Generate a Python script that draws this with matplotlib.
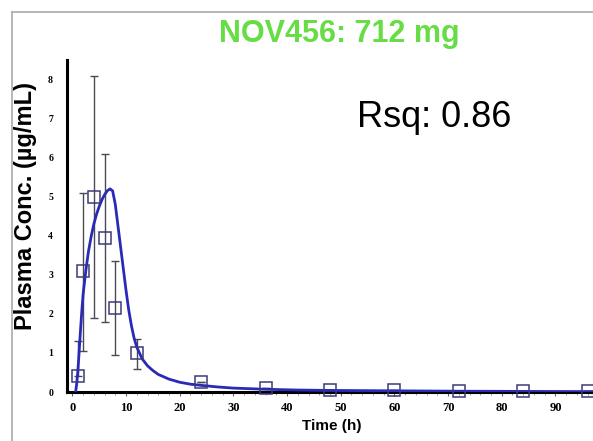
import matplotlib
matplotlib.use("Agg")
import matplotlib.pyplot as plt
from matplotlib.ticker import MultipleLocator

# Observed data
obs_time = [1, 2, 4, 6, 8, 12, 24, 36, 48, 60, 72, 84, 96]
obs_conc = [0.40, 3.10, 5.00, 3.95, 2.15, 1.00, 0.25, 0.10, 0.05, 0.05, 0.03, 0.03, 0.03]
err_low = [0.40, 1.05, 1.90, 1.80, 0.95, 0.60, 0.25, 0.10, 0.05, 0.05, 0.03, 0.03, 0.03]
err_high = [1.30, 5.10, 8.10, 6.10, 3.35, 1.35, 0.25, 0.10, 0.05, 0.05, 0.03, 0.03, 0.03]

# Model fit curve
fit_time = [0.6, 0.8, 1.0, 1.25, 1.5, 1.75, 2.0, 2.5, 3.0, 3.5, 4.0, 4.5, 5.0, 5.5, 6.0, 6.5, 7.0,
            7.5, 8.0, 8.5, 9.0, 9.5, 10.0, 10.5, 11.0, 11.5, 12.0, 13.0, 14.0, 15.0, 16.0, 18.0,
            20.0, 22.0, 24.0, 27.0, 30.0, 36.0, 42.0, 48.0, 60.0, 72.0, 84.0, 97.0]
fit_conc = [0.0, 0.2, 0.5, 1.0, 1.55, 2.05, 2.5, 3.1, 3.6, 3.98, 4.3, 4.55, 4.75, 4.92, 5.05, 5.15, 5.2,
            5.15, 4.8, 4.25, 3.7, 3.15, 2.6, 2.1, 1.7, 1.38, 1.15, 0.85, 0.67, 0.55, 0.45, 0.33,
            0.25, 0.2, 0.17, 0.13, 0.1, 0.07, 0.05, 0.04, 0.03, 0.02, 0.015, 0.01]

title_text = "NOV456: 712 mg"
rsq_text = "Rsq: 0.86"
xlabel = "Time (h)"
ylabel = "Plasma Conc. (µg/mL)"

fig = plt.figure(figsize=(5.93, 4.41), dpi=100)
fig.patch.set_facecolor("white")

# gray outer frame
fig.add_artist(plt.Line2D([12/593, 12/593], [0, 1 - 12/441], color="#aaaaaa", lw=1.2, transform=fig.transFigure))
fig.add_artist(plt.Line2D([12/593, 1], [1 - 12/441, 1 - 12/441], color="#aaaaaa", lw=1.2, transform=fig.transFigure))

ax = fig.add_axes([67/593, 1 - 392/441, 1 - 67/593, (392 - 60)/441])
ax.set_xlim(-1, 97)
ax.set_ylim(0, 8.5)

yerr = [[c - l for c, l in zip(obs_conc, err_low)], [h - c for c, h in zip(obs_conc, err_high)]]
ax.errorbar(obs_time, obs_conc, yerr=yerr, fmt="none", ecolor="#4a4a55", elinewidth=1.0, capsize=3, capthick=1.0, zorder=2)
ax.plot(fit_time, fit_conc, color="#2a2ab8", lw=2.0, zorder=3, solid_joinstyle="round")
ax.plot(obs_time, obs_conc, linestyle="none", marker="s", markersize=9, markerfacecolor="none",
        markeredgecolor="#3a3a7a", markeredgewidth=1.1, zorder=4, clip_on=False)

for s in ["top", "right"]:
    ax.spines[s].set_visible(False)
for s in ["left", "bottom"]:
    ax.spines[s].set_linewidth(2.2)
    ax.spines[s].set_color("black")

ax.xaxis.set_minor_locator(MultipleLocator(2))
ax.set_yticks(range(0, 9))
ax.set_yticklabels([str(v) for v in range(0, 9)], fontfamily="Liberation Serif", fontweight="bold", fontsize=7)
ax.set_xticks(range(0, 100, 10))
ax.set_xticklabels([str(v) for v in range(0, 100, 10)], fontfamily="Liberation Serif", fontweight="bold", fontsize=9)
ax.tick_params(axis="x", which="major", length=3, width=0.8, color="#666666", pad=4)
ax.tick_params(axis="x", which="minor", length=2, width=0.6, color="#888888")
ax.tick_params(axis="y", length=0, pad=10)

ax.set_xlabel(xlabel, fontsize=11, fontweight="bold", fontfamily="Liberation Sans")
ax.xaxis.set_label_coords((332 - 67) / (593 - 67), -0.08)
ax.set_ylabel(ylabel, fontsize=17, fontweight="bold", fontfamily="Liberation Sans")
ax.yaxis.set_label_coords((37 - 67) / (593 - 67), (392 - 206) / (392 - 60))

fig.text(339/593, 1 - 34/441, title_text, color="#66dd44", fontsize=22, fontweight="bold",
         fontfamily="Liberation Sans", ha="center", va="center")
fig.text(434/593, 1 - 117/441, rsq_text, color="black", fontsize=26, fontfamily="Liberation Sans",
         ha="center", va="center")

fig.savefig("out.png", dpi=100)
